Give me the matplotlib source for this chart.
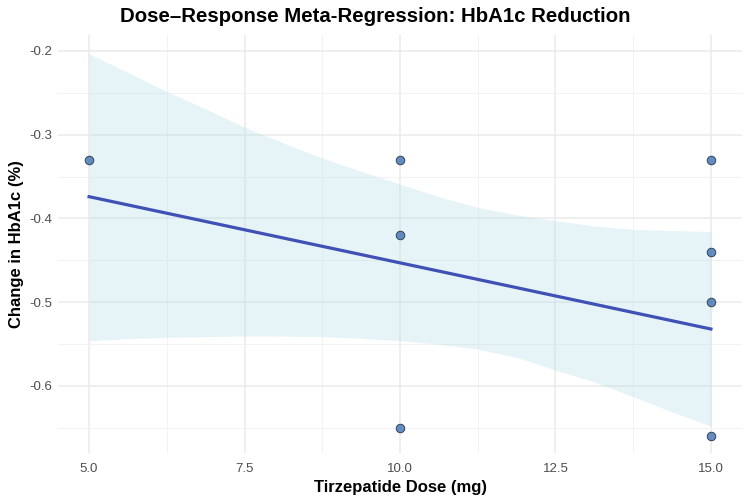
import numpy as np
import matplotlib
matplotlib.use("Agg")
from matplotlib import pyplot as plt

plt.rcParams['font.family'] = ['Liberation Sans', 'DejaVu Sans']

# study points
dose = [5, 10, 10, 10, 15, 15, 15, 15]
hba1c = [-0.33, -0.33, -0.42, -0.65, -0.33, -0.44, -0.50, -0.66]

# fitted line + confidence band
fit_x = [5, 15]
fit_y = [-0.374, -0.532]
band_x = [5, 5.63, 6.25, 6.87, 7.5, 8.16, 8.75, 9.39, 10,
          10.62, 11.25, 11.89, 12.5, 13.12, 13.75, 14.38, 15]
band_hi = [-0.2036, -0.226, -0.2486, -0.269, -0.291, -0.311, -0.328, -0.344, -0.359,
           -0.374, -0.3867, -0.396, -0.4026, -0.409, -0.413, -0.4145, -0.4157]
band_lo = [-0.5459, -0.5435, -0.5419, -0.541, -0.5403, -0.5405, -0.5411, -0.543, -0.546,
           -0.550, -0.556, -0.566, -0.581, -0.595, -0.6128, -0.631, -0.6478]

fig = plt.figure(figsize=(7.5, 5.03), dpi=100)
ax = fig.add_axes([58/750, 1-453/503, (742-58)/750, (453-35)/503])

ax.fill_between(band_x, band_lo, band_hi, color='#ADD8E6', alpha=0.3, linewidth=0, zorder=2)
ax.plot(fit_x, fit_y, color='#3F51B5', linewidth=2.3, zorder=3)
ax.scatter(dose, hba1c, s=38, color='#4A7AB5', edgecolor='#1F2F45', linewidth=0.7, alpha=0.85, zorder=4)

ax.set_xlim(4.5, 15.5)
ax.set_ylim(-0.680, -0.181)
ax.set_xticks([5.0, 7.5, 10.0, 12.5, 15.0])
ax.set_xticklabels(["5.0", "7.5", "10.0", "12.5", "15.0"])
ax.set_yticks([-0.2, -0.3, -0.4, -0.5, -0.6])
ax.set_yticklabels(["-0.2", "-0.3", "-0.4", "-0.5", "-0.6"])
ax.set_xticks([6.25, 8.75, 11.25, 13.75], minor=True)
ax.set_yticks([-0.25, -0.35, -0.45, -0.55, -0.65], minor=True)

ax.grid(which='major', color='#EBEBEB', linewidth=1.1, zorder=0)
ax.grid(which='minor', color='#F2F2F2', linewidth=0.7, zorder=0)
ax.set_axisbelow(True)
for s in ax.spines.values():
    s.set_visible(False)
ax.tick_params(which='both', length=0, labelsize=9.5, labelcolor='#4D4D4D')
ax.tick_params(axis='x', pad=7)
ax.tick_params(axis='y', pad=4)

ax.set_xlabel("Tirzepatide Dose (mg)", fontsize=12, fontweight='bold', labelpad=4)
ax.set_ylabel("Change in HbA1c (%)", fontsize=12, fontweight='bold', labelpad=4)
fig.text(0.5, 1-17/503, "Dose\u2013Response Meta-Regression: HbA1c Reduction",
         ha='center', va='center', fontsize=14.7, fontweight='bold')

fig.savefig("out.png", dpi=100)
